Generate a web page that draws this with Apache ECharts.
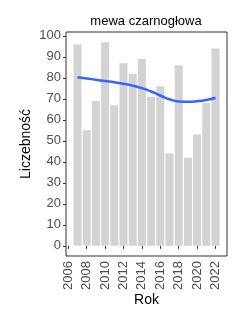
<!DOCTYPE html>
<html>
<head>
<meta charset="utf-8">
<script src="https://cdn.jsdelivr.net/npm/echarts@6/dist/echarts.min.js"></script>
<style>
  html, body { margin: 0; padding: 0; background: #fff; }
  #chart { width: 250px; height: 313px; }
</style>
</head>
<body>
<div id="chart"></div>
<script>
// lata (słupki)
const years = [2007, 2008, 2009, 2010, 2011, 2012, 2013, 2014, 2015, 2016, 2017, 2018, 2019, 2020, 2021, 2022]
// liczebność
const counts = [96, 55, 69, 97, 67, 87, 82, 89, 71, 76, 44, 86, 42, 53, 68, 94]
// wygładzony trend
const trend = [80.3, 79.7, 79.1, 78.5, 77.9, 77.2, 76.3, 75.1, 73.5, 71.6, 69.8, 68.8, 68.6, 68.9, 69.5, 70.5]
// etykiety osi
const xTicks = [2006, 2008, 2010, 2012, 2014, 2016, 2018, 2020, 2022]
const yTicks = [0, 10, 20, 30, 40, 50, 60, 70, 80, 90, 100]

const chart = echarts.init(document.getElementById('chart'))
const font = 'Liberation Sans, Arial, sans-serif'

const option = {
  animation: false,
  backgroundColor: '#fff',
  title: {
    text: 'mewa czarnogłowa',
    left: 141,
    top: 10,
    textAlign: 'center',
    textStyle: { color: '#000', fontSize: 13, fontWeight: 'normal', fontFamily: font }
  },
  grid: {
    left: 66,
    top: 32,
    width: 161,
    height: 224,
    outerBoundsMode: 'none',
    containLabel: false,
    show: true,
    borderColor: '#333',
    borderWidth: 1,
    backgroundColor: 'transparent'
  },
  xAxis: {
    type: 'value',
    min: 2005.75,
    max: 2023.25,
    name: 'Rok',
    nameLocation: 'middle',
    nameGap: 37,
    nameMoveOverlap: false,
    nameTextStyle: { color: '#000', fontSize: 14, fontFamily: font },
    axisLine: { show: false },
    axisTick: { show: true, length: 3, customValues: xTicks, lineStyle: { color: '#333' } },
    axisLabel: {
      customValues: xTicks,
      rotate: 90,
      color: '#4d4d4d',
      fontSize: 13,
      fontFamily: font,
      margin: 5,
      formatter: v => String(v)
    },
    splitLine: { show: false }
  },
  yAxis: {
    type: 'value',
    min: -4.85,
    max: 101.85,
    name: 'Liczebność',
    nameLocation: 'middle',
    nameRotate: 90,
    nameGap: 33,
    nameMoveOverlap: false,
    nameTextStyle: { color: '#000', fontSize: 14, fontFamily: font },
    axisLine: { show: false },
    axisTick: { show: true, length: 3, customValues: yTicks, lineStyle: { color: '#333' } },
    axisLabel: {
      customValues: yTicks,
      color: '#4d4d4d',
      fontSize: 13,
      fontFamily: font,
      margin: 5
    },
    splitLine: { show: false }
  },
  series: [
    {
      type: 'bar',
      data: years.map((y, i) => [y, counts[i]]),
      barWidth: 8,
      itemStyle: { color: '#d3d3d3' },
      silent: true
    },
    {
      type: 'line',
      data: years.map((y, i) => [y, trend[i]]),
      smooth: true,
      showSymbol: false,
      lineStyle: { color: '#3366ff', width: 2.5 },
      silent: true
    }
  ]
}

chart.setOption(option)
</script>
</body>
</html>
